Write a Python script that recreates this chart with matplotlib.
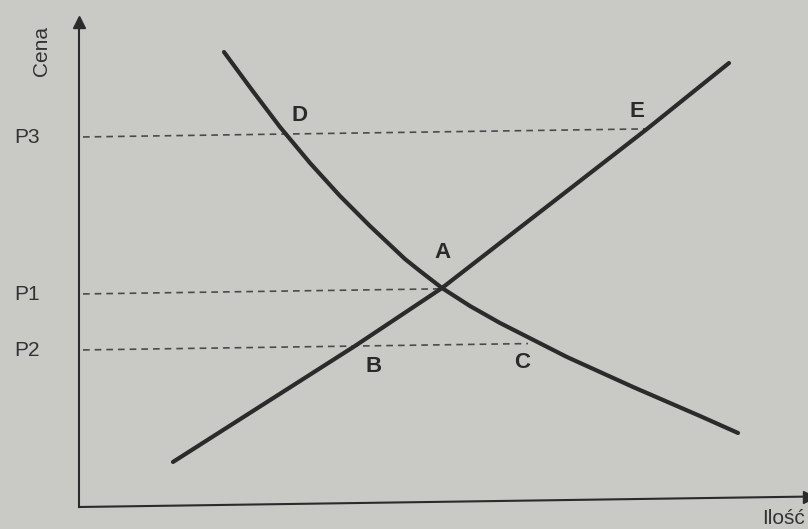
import numpy as np
import matplotlib
matplotlib.use("Agg")
import matplotlib.pyplot as plt
from matplotlib.transforms import Affine2D

# Podaz i popyt (ilosc, cena)
podaz_q = [9.4, 27.6, 36.3, 56.8, 65.0]
podaz_p = [4.07, 15.41, 21.08, 36.69, 43.17]

popyt_q = [14.5, 17.3, 20.1, 23.1, 26.1, 29.1, 32.6, 34.1, 36.3, 39.1, 42.1, 48.8, 55.4, 62.1, 65.9]
popyt_p = [44.99, 41.15, 37.41, 33.77, 30.43, 27.38, 24.03, 22.81, 21.08, 19.24, 17.50, 14.00, 10.91, 7.91, 6.16]

# poziomy cen i gdzie konczy sie linia przerywana
ceny = ["P3", "P1", "P2"]
ceny_p = [36.7, 21.0, 15.4]
ceny_koniec = [56.8, 36.3, 44.9]

# punkty opisane literami
punkty = ["D", "E", "A", "B", "C"]
punkty_q = [22.1, 55.8, 36.4, 29.5, 44.3]
punkty_p = [38.5, 38.5, 24.6, 13.3, 13.5]

tlo = "#c9cac5"
ciemny = "#2b2b2b"

fig = plt.figure(figsize=(8.08, 5.29), dpi=100, facecolor=tlo)
ax = fig.add_axes([0, 0, 1, 1])
ax.set_facecolor(tlo)
ax.set_xlim(-7.9, 72.9)
ax.set_ylim(-2.5, 50.4)
ax.axis("off")

# zdjecie jest lekko przekrzywione
skos = Affine2D().skew(0, np.arctan(0.0143)) + ax.transData

# osie
ax.plot([0, 0], [-0.3, 48.0], color=ciemny, lw=1.5, transform=skos)
ax.plot([0], [48.2], marker="^", ms=9, color=ciemny, transform=skos, clip_on=False)
ax.plot([0, 72.5], [-0.3, -0.3], color=ciemny, lw=1.5, transform=skos)
ax.plot([73.0], [-0.3], marker=">", ms=9, color=ciemny, transform=skos, clip_on=False)

# linie przerywane
for nazwa, p, q_end in zip(ceny, ceny_p, ceny_koniec):
    ax.plot([0.4, q_end], [p, p], color="#4a4a4a", lw=1.2, dashes=(4, 3), transform=skos)
    ax.text(-5.2, p, nazwa, fontsize=15, color="#333333", ha="center", va="center",
            family="Liberation Sans", transform=skos)

# krzywe
ax.plot(podaz_q, podaz_p, color=ciemny, lw=3, solid_capstyle="round",
        solid_joinstyle="round", transform=skos)
ax.plot(popyt_q, popyt_p, color=ciemny, lw=3, solid_capstyle="round",
        solid_joinstyle="round", transform=skos)

for lit, q, p in zip(punkty, punkty_q, punkty_p):
    ax.text(q, p, lit, fontsize=16, fontweight="bold", color="#2a2a2a",
            ha="center", va="center", family="Liberation Sans", transform=skos)

ax.text(-3.7, 45.4, "Cena", rotation=90, fontsize=15, color="#333333",
        ha="center", va="center", family="Liberation Sans", transform=skos)
ax.text(68.3, -2.4, "Ilość", fontsize=15, color="#333333",
        ha="left", va="center", family="Liberation Sans", transform=skos)

fig.savefig("out.png", dpi=100, facecolor=tlo)
